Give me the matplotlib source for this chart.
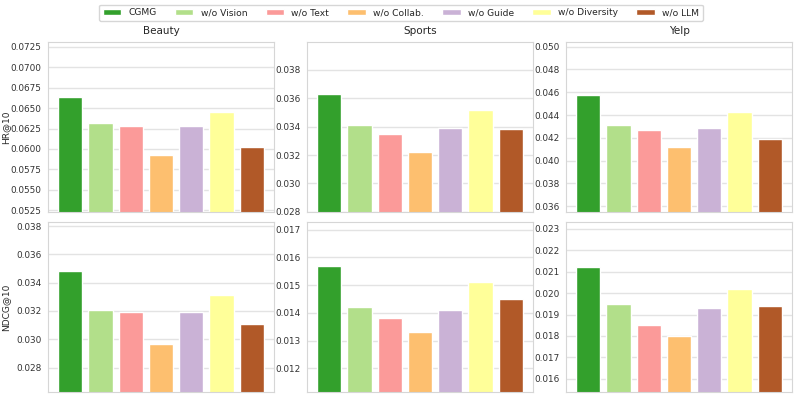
import matplotlib
matplotlib.use("Agg")
import matplotlib.pyplot as plt
from matplotlib.ticker import MultipleLocator
import seaborn as sns

sns.set_style("whitegrid")
plt.rcParams["font.family"] = ["DejaVu Sans"]

variants = ["CGMG", "w/o Vision", "w/o Text", "w/o Collab.", "w/o Guide", "w/o Diversity", "w/o LLM"]
colors = ["#33a02c", "#b2df8a", "#fb9a99", "#fdbf6f", "#cab2d6", "#ffff99", "#b15928"]
datasets = ["Beauty", "Sports", "Yelp"]
metrics = ["HR@10", "NDCG@10"]

hr = {
    "Beauty": [0.0664, 0.0632, 0.0628, 0.0593, 0.0628, 0.0645, 0.0602],
    "Sports": [0.0363, 0.0341, 0.0335, 0.0322, 0.0339, 0.0352, 0.0338],
    "Yelp": [0.0458, 0.0431, 0.0427, 0.0412, 0.0429, 0.0443, 0.0419],
}
ndcg = {
    "Beauty": [0.0348, 0.0321, 0.0319, 0.0297, 0.0319, 0.0331, 0.0311],
    "Sports": [0.0157, 0.0142, 0.0138, 0.0133, 0.0141, 0.0151, 0.0145],
    "Yelp": [0.0212, 0.0195, 0.0185, 0.0180, 0.0193, 0.0202, 0.0194],
}
# lower y limits
hr_low = {"Beauty": 0.0523, "Sports": 0.0280, "Yelp": 0.0355}
ndcg_low = {"Beauty": 0.0263, "Sports": 0.01116, "Yelp": 0.0154}
hr_step = {"Beauty": 0.0025, "Sports": 0.002, "Yelp": 0.002}
ndcg_step = {"Beauty": 0.002, "Sports": 0.001, "Yelp": 0.001}

fig, axes = plt.subplots(2, 3, figsize=(7.97, 3.96), dpi=100)
fig.subplots_adjust(left=0.060, right=0.994, top=0.893, bottom=0.011, wspace=0.145, hspace=0.06)

for r, (vals, lows, steps) in enumerate([(hr, hr_low, hr_step), (ndcg, ndcg_low, ndcg_step)]):
    for c, ds in enumerate(datasets):
        ax = axes[r, c]
        v = vals[ds]
        bars = ax.bar(range(len(v)), v, width=0.8, color=colors, edgecolor="white", linewidth=1)
        ax.set_ylim(lows[ds], max(v) * 1.1)
        ax.yaxis.set_major_locator(MultipleLocator(steps[ds]))
        ax.set_xticks([])
        ax.tick_params(axis="y", labelsize=6.4, pad=1, colors="#333333")
        ax.grid(True, axis="y", color="#e3e3e3", linewidth=1)
        for s in ax.spines.values():
            s.set_color("#d6d6d6")
        if r == 0:
            ax.set_title(ds, fontsize=7.5, pad=6)
        if c == 0:
            ax.set_ylabel(metrics[r], fontsize=6.5)
            ax.yaxis.set_label_coords(-0.165, 0.5)
        if r == 0 and c == 0:
            handles = bars

fig.legend(handles, variants, loc="upper center", ncol=7, fontsize=6.6,
           bbox_to_anchor=(0.503, 1.0), frameon=True)

plt.savefig("out.png", dpi=100)
